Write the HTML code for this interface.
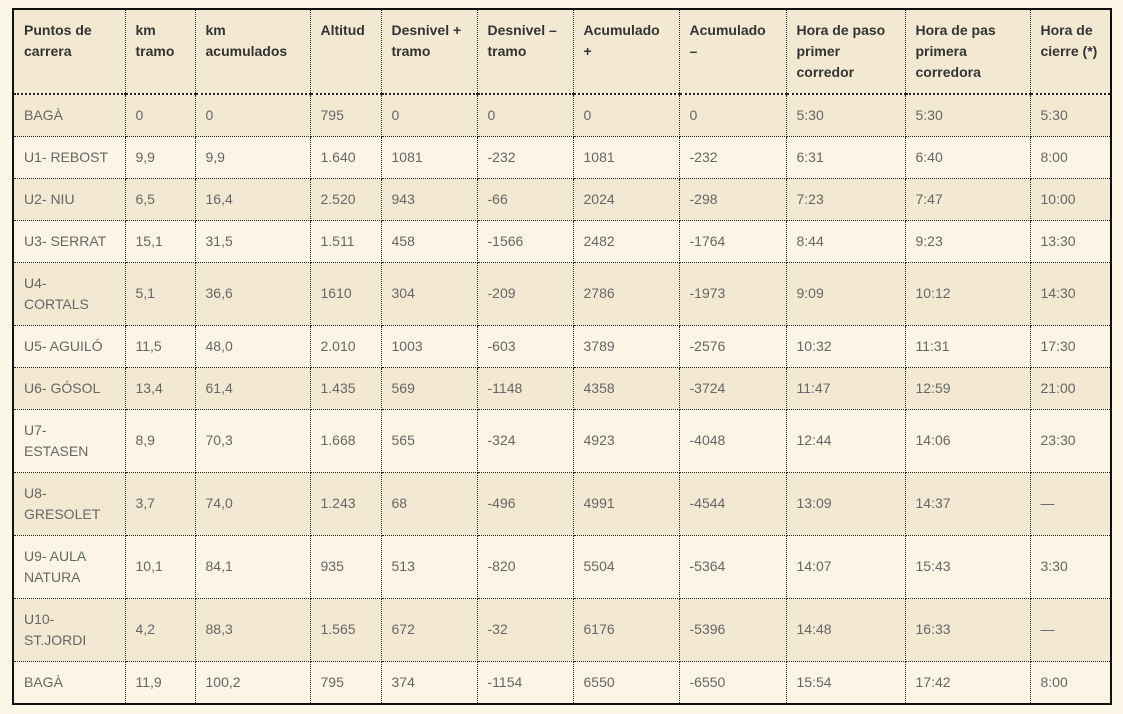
<!DOCTYPE html>
<html><head><meta charset="utf-8">
<style>
html,body{margin:0;padding:0;}
body{width:1123px;height:714px;background:#fcf6e7;overflow:hidden;position:relative;font-family:"Liberation Sans",sans-serif;}
table{position:absolute;left:12px;top:8px;border-collapse:collapse;table-layout:fixed;border:2px solid #111;}
td,th{border:1px dotted #222;padding:0 10px;font-size:14px;line-height:21px;vertical-align:middle;text-align:left;overflow:hidden;}
th{vertical-align:top;padding-top:10px;font-weight:bold;color:#333;background:#f3e9d2;border-bottom:2px dotted #222;}
td{color:#666;}
tr.o td{background:#f3e9d2;}
tr.e td{background:#fcf5e5;}
</style></head><body>
<table>
<colgroup><col style="width:112px"><col style="width:70px"><col style="width:115px"><col style="width:71px"><col style="width:96px"><col style="width:96px"><col style="width:106px"><col style="width:107px"><col style="width:119px"><col style="width:125px"><col style="width:81px"></colgroup>
<tr style="height:85px"><th>Puntos de carrera</th><th>km tramo</th><th>km acumulados</th><th>Altitud</th><th>Desnivel + tramo</th><th>Desnivel – tramo</th><th>Acumulado +</th><th>Acumulado –</th><th>Hora de paso primer corredor</th><th>Hora de pas primera corredora</th><th>Hora de cierre (*)</th></tr>
<tr class="o" style="height:42px"><td>BAGÀ</td><td>0</td><td>0</td><td>795</td><td>0</td><td>0</td><td>0</td><td>0</td><td>5:30</td><td>5:30</td><td>5:30</td></tr>
<tr class="e" style="height:42px"><td>U1- REBOST</td><td>9,9</td><td>9,9</td><td>1.640</td><td>1081</td><td>-232</td><td>1081</td><td>-232</td><td>6:31</td><td>6:40</td><td>8:00</td></tr>
<tr class="o" style="height:42px"><td>U2- NIU</td><td>6,5</td><td>16,4</td><td>2.520</td><td>943</td><td>-66</td><td>2024</td><td>-298</td><td>7:23</td><td>7:47</td><td>10:00</td></tr>
<tr class="e" style="height:42px"><td>U3- SERRAT</td><td>15,1</td><td>31,5</td><td>1.511</td><td>458</td><td>-1566</td><td>2482</td><td>-1764</td><td>8:44</td><td>9:23</td><td>13:30</td></tr>
<tr class="o" style="height:63px"><td>U4-<br>CORTALS</td><td>5,1</td><td>36,6</td><td>1610</td><td>304</td><td>-209</td><td>2786</td><td>-1973</td><td>9:09</td><td>10:12</td><td>14:30</td></tr>
<tr class="e" style="height:42px"><td>U5- AGUILÓ</td><td>11,5</td><td>48,0</td><td>2.010</td><td>1003</td><td>-603</td><td>3789</td><td>-2576</td><td>10:32</td><td>11:31</td><td>17:30</td></tr>
<tr class="o" style="height:42px"><td>U6- GÓSOL</td><td>13,4</td><td>61,4</td><td>1.435</td><td>569</td><td>-1148</td><td>4358</td><td>-3724</td><td>11:47</td><td>12:59</td><td>21:00</td></tr>
<tr class="e" style="height:63px"><td>U7-<br>ESTASEN</td><td>8,9</td><td>70,3</td><td>1.668</td><td>565</td><td>-324</td><td>4923</td><td>-4048</td><td>12:44</td><td>14:06</td><td>23:30</td></tr>
<tr class="o" style="height:63px"><td>U8-<br>GRESOLET</td><td>3,7</td><td>74,0</td><td>1.243</td><td>68</td><td>-496</td><td>4991</td><td>-4544</td><td>13:09</td><td>14:37</td><td>—</td></tr>
<tr class="e" style="height:63px"><td>U9- AULA NATURA</td><td>10,1</td><td>84,1</td><td>935</td><td>513</td><td>-820</td><td>5504</td><td>-5364</td><td>14:07</td><td>15:43</td><td>3:30</td></tr>
<tr class="o" style="height:63px"><td>U10-<br>ST.JORDI</td><td>4,2</td><td>88,3</td><td>1.565</td><td>672</td><td>-32</td><td>6176</td><td>-5396</td><td>14:48</td><td>16:33</td><td>—</td></tr>
<tr class="e" style="height:43px"><td>BAGÀ</td><td>11,9</td><td>100,2</td><td>795</td><td>374</td><td>-1154</td><td>6550</td><td>-6550</td><td>15:54</td><td>17:42</td><td>8:00</td></tr>
</table>
</body></html>
